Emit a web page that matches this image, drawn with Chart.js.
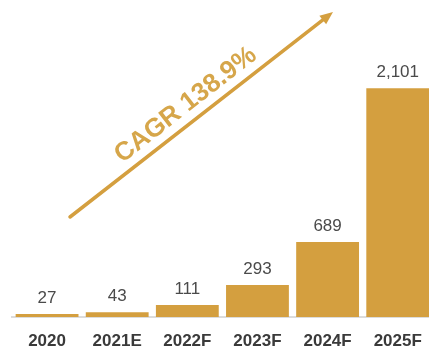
<!DOCTYPE html>
<html>
<head>
<meta charset="utf-8">
<script src="https://cdn.jsdelivr.net/npm/chart.js@4/dist/chart.umd.min.js"></script>
<style>
  html, body { margin: 0; padding: 0; background: #ffffff; overflow: hidden; }
  #wrap { width: 436px; height: 346px; position: relative; }
</style>
</head>
<body>
<div id="wrap"><canvas id="c"></canvas></div>
<script>
// Market size by year (E = estimate, F = forecast)
const years = ['2020', '2021E', '2022F', '2023F', '2024F', '2025F'];
const values = [27, 43, 111, 293, 689, 2101];
const growthLabel = 'CAGR 138.9%';

const GOLD = '#D49F3F';
const FONT = '"Liberation Sans", Arial, sans-serif';

// Value labels above each bar
const valueLabels = {
  id: 'valueLabels',
  afterDatasetsDraw(chart) {
    const ctx = chart.ctx;
    const meta = chart.getDatasetMeta(0);
    ctx.save();
    ctx.font = '17px ' + FONT;
    ctx.fillStyle = '#4a4a4a';
    ctx.textAlign = 'center';
    ctx.textBaseline = 'middle';
    meta.data.forEach((bar, i) => {
      ctx.fillText(values[i].toLocaleString('en-US'), bar.x, bar.y - 16);
    });
    ctx.restore();
  }
};

// Growth arrow with rotated CAGR caption
const growthArrow = {
  id: 'growthArrow',
  afterDraw(chart) {
    const ctx = chart.ctx;
    const a = chart.chartArea;
    const x0 = a.left + 58, y0 = a.top + 205;
    const x1 = a.left + 321, y1 = a.top;
    const ang = Math.atan2(y1 - y0, x1 - x0);
    ctx.save();
    ctx.strokeStyle = GOLD;
    ctx.fillStyle = GOLD;
    ctx.lineWidth = 3.5;
    ctx.lineCap = 'round';
    const head = 13;
    ctx.beginPath();
    ctx.moveTo(x0, y0);
    ctx.lineTo(x1 - Math.cos(ang) * head * 0.8, y1 - Math.sin(ang) * head * 0.8);
    ctx.stroke();
    ctx.beginPath();
    ctx.moveTo(x1, y1);
    ctx.lineTo(x1 - head * Math.cos(ang) + 5.5 * Math.sin(ang), y1 - head * Math.sin(ang) - 5.5 * Math.cos(ang));
    ctx.lineTo(x1 - head * Math.cos(ang) - 5.5 * Math.sin(ang), y1 - head * Math.sin(ang) + 5.5 * Math.cos(ang));
    ctx.closePath();
    ctx.fill();
    // caption
    const t = 0.48;
    const cx = x0 + (x1 - x0) * t, cy = y0 + (y1 - y0) * t;
    ctx.translate(cx, cy);
    ctx.rotate(ang);
    ctx.font = 'bold 26px ' + FONT;
    ctx.fillStyle = '#D6A64A';
    ctx.textAlign = 'center';
    ctx.textBaseline = 'alphabetic';
    ctx.fillText(growthLabel, 0, -10);
    ctx.restore();
  }
};

new Chart(document.getElementById('c'), {
  type: 'bar',
  data: {
    labels: years,
    datasets: [{
      data: values,
      backgroundColor: GOLD,
      borderWidth: 0,
      barPercentage: 0.896,
      categoryPercentage: 1.0
    }]
  },
  options: {
    responsive: true,
    maintainAspectRatio: false,
    animation: false,
    layout: { padding: { left: 12, right: 2, top: 12, bottom: 0 } },
    plugins: { legend: { display: false }, tooltip: { enabled: false } },
    scales: {
      x: {
        grid: { display: false, drawTicks: false },
        border: { display: true, color: '#dcdcdc', width: 2 },
        ticks: {
          color: '#3a3a3a',
          padding: 14,
          font: { family: FONT, size: 17, weight: 'bold', lineHeight: 1.2 }
        },
        afterFit(scale) { scale.height = 29; }
      },
      y: {
        display: false,
        min: 0,
        max: 2800
      }
    }
  },
  plugins: [valueLabels, growthArrow]
});
</script>
</body>
</html>
